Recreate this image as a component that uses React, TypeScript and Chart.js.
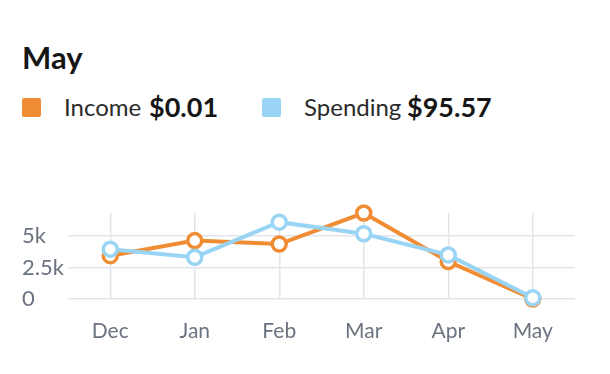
import React, { useEffect, useRef } from "react";
import { Chart, registerables } from "chart.js";

Chart.register(...registerables);

const months = ["Dec", "Jan", "Feb", "Mar", "Apr", "May"];
const income = [3450, 4650, 4380, 6850, 2980, 0.01];
const spending = [3970, 3330, 6120, 5200, 3510, 95.57];
const yTickValues = [0, 2500, 5000];
const yTickLabels = ["0", "2.5k", "5k"];

const title = "May";
const incomeLabel = "Income";
const incomeTotal = "$0.01";
const spendingLabel = "Spending";
const spendingTotal = "$95.57";

const ORANGE = "#F08D34";
const BLUE = "#9AD4F4";
const TICK = "#6B7280";
const GRID = "#E3E5EA";
const FONT = "Lato, 'Noto Sans', sans-serif";

export default function App() {
  const canvasRef = useRef<HTMLCanvasElement | null>(null);

  useEffect(() => {
    if (!canvasRef.current) return;
    const yMax = Math.max(...income, ...spending);
    const common = {
      borderWidth: 4,
      pointRadius: 7,
      pointBorderWidth: 3.5,
      pointBackgroundColor: "#ffffff",
      backgroundColor: "#ffffff",
      tension: 0,
      clip: false as const,
    };
    const chart = new Chart(canvasRef.current, {
      type: "line",
      data: {
        labels: months,
        datasets: [
          {
            ...common,
            label: spendingLabel,
            data: spending,
            borderColor: BLUE,
            pointBorderColor: BLUE,
          },
          {
            ...common,
            label: incomeLabel,
            data: income,
            borderColor: ORANGE,
            pointBorderColor: ORANGE,
          },
        ],
      },
      options: {
        animation: false,
        responsive: true,
        maintainAspectRatio: false,
        layout: { padding: { left: 22, right: 35, top: 213, bottom: 0 } },
        plugins: {
          legend: { display: false },
          tooltip: { enabled: false },
        },
        scales: {
          x: {
            offset: true,
            grid: { offset: false, color: GRID, lineWidth: 1.5, drawTicks: false },
            border: { display: false },
            ticks: {
              color: TICK,
              font: { family: FONT, size: 21 },
              padding: 20,
              maxRotation: 0,
            },
            afterFit: (scale: any) => {
              scale.height = 75;
            },
          },
          y: {
            min: 0,
            max: yMax,
            grid: { color: GRID, lineWidth: 1.5, drawTicks: false },
            border: { display: false },
            ticks: {
              stepSize: 2500,
              color: TICK,
              padding: 0,
              crossAlign: "far",
              font: { family: FONT, size: 22 },
              callback: (v: any) => {
                const i = yTickValues.indexOf(Number(v));
                return i >= 0 ? yTickLabels[i] : "";
              },
            },
            afterBuildTicks: (scale: any) => {
              scale.ticks = yTickValues.map((value) => ({ value }));
            },
            afterFit: (scale: any) => {
              scale.width = 46;
            },
          },
        },
      },
    });
    return () => chart.destroy();
  }, []);

  const sq = (color: string, left: number): React.CSSProperties => ({
    position: "absolute",
    left,
    top: 98,
    width: 19,
    height: 19,
    borderRadius: 2,
    background: color,
  });
  const txt = (left: number, top: number, size: number, bold: boolean): React.CSSProperties => ({
    position: "absolute",
    left,
    top,
    fontSize: size,
    lineHeight: 1,
    fontWeight: bold ? 700 : 400,
    color: bold ? "#161616" : "#2b2b2b",
    whiteSpace: "nowrap",
  });

  return (
    <div
      style={{
        position: "fixed",
        left: 0,
        top: 0,
        width: 610,
        height: 374,
        background: "#ffffff",
        fontFamily: FONT,
      }}
    >
      <div style={txt(22, 42, 31, true)}>{title}</div>
      <div style={sq(ORANGE, 22)} />
      <div style={txt(64, 95, 24, false)}>{incomeLabel}</div>
      <div style={txt(149, 93, 27, true)}>{incomeTotal}</div>
      <div style={sq(BLUE, 262)} />
      <div style={txt(304, 95, 24, false)}>{spendingLabel}</div>
      <div style={txt(407, 93, 27, true)}>{spendingTotal}</div>
      <div style={{ position: "absolute", left: 0, top: 0, width: 610, height: 374 }}>
        <canvas ref={canvasRef} />
      </div>
    </div>
  );
}
